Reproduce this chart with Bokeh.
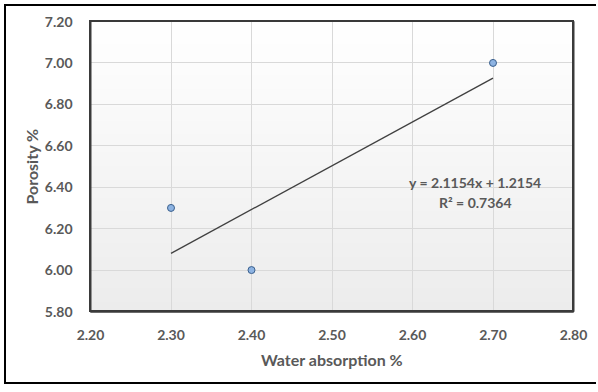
import numpy as np
from bokeh.plotting import figure
from bokeh.models import Label, FixedTicker, Range1d, CustomJSTickFormatter, InlineStyleSheet
from bokeh.embed import file_html
from bokeh.resources import INLINE

# data
water_absorption = [2.3, 2.4, 2.7]
porosity = [6.3, 6.0, 7.0]
slope = 2.1154
intercept = 1.2154
r_squared = 0.7364
trend_x = [2.3, 2.7]
x_ticks = [2.2, 2.3, 2.4, 2.5, 2.6, 2.7, 2.8]
y_ticks = [5.8, 6.0, 6.2, 6.4, 6.6, 6.8, 7.0, 7.2]

FONT = "Lato"
GRAY = "#595959"
FRAME = "#3a3a3a"

W = 592
H = 380
ML, MR, MT, MB = 84, 25, 15, 75
x0, x1 = x_ticks[0], x_ticks[-1]
y0, y1 = y_ticks[0], y_ticks[-1]
p = figure(width=W, height=H, output_backend="svg", toolbar_location=None,
           x_range=Range1d(x0, x1), y_range=Range1d(y0, y1),
           min_border_left=ML, min_border_right=MR,
           min_border_top=MT, min_border_bottom=MB)
p.styles = {"margin-left": "4px", "margin-top": "4px",
            "border-top": "2.5px solid black", "border-left": "2.5px solid black",
            "border-bottom": "2.5px solid black", "border-right": "none"}

# dark frame border drawn by CSS on top of the canvas
fw = W - ML - MR
fh = H - MT - MB
css = (":host { position: relative; }\n"
       ":host::after { content: ''; position: absolute; "
       f"left: {ML - 1}px; top: {MT - 1}px; width: {fw + 2}px; height: {fh + 2}px; "
       f"border: 2px solid {FRAME}; box-sizing: border-box; "
       "pointer-events: none; z-index: 50; }")
p.stylesheets = [InlineStyleSheet(css=css)]

# background gradient in plot area
n = 64
img = np.zeros((n, 1), dtype=np.uint32)
view = img.view(dtype=np.uint8).reshape((n, 1, 4))
for i in range(n):
    t = i / (n - 1)  # 0 bottom -> 1 top
    c = int(round(236 + (255 - 236) * t))
    view[i, 0] = [c, c, c, 255]
p.image_rgba(image=[img], x=x0, y=y0, dw=x1 - x0, dh=y1 - y0, level="image")

p.outline_line_color = FRAME
p.outline_line_width = 2
p.background_fill_color = "white"
p.border_fill_color = "white"

for g in (p.xgrid, p.ygrid):
    g.grid_line_color = "#d9d9d9"
    g.grid_line_width = 1
p.xgrid.ticker = FixedTicker(ticks=x_ticks[1:-1])
p.ygrid.ticker = FixedTicker(ticks=y_ticks[1:-1])

p.xaxis.ticker = FixedTicker(ticks=x_ticks)
p.yaxis.ticker = FixedTicker(ticks=y_ticks)
p.xaxis.formatter = CustomJSTickFormatter(code="return tick.toFixed(2);")
p.yaxis.formatter = CustomJSTickFormatter(code="return tick.toFixed(2);")

for ax in (p.xaxis[0], p.yaxis[0]):
    ax.axis_line_color = FRAME
    ax.axis_line_width = 2
    ax.major_tick_line_color = None
    ax.minor_tick_line_color = None
    ax.major_label_text_font = FONT
    ax.major_label_text_font_style = "bold"
    ax.major_label_text_font_size = "14px"
    ax.major_label_text_color = GRAY
    ax.axis_label_text_font = FONT
    ax.axis_label_text_font_style = "bold"
    ax.axis_label_text_font_size = "16px"
    ax.axis_label_text_color = GRAY

p.xaxis.axis_label = "Water absorption %"
p.yaxis.axis_label = "Porosity %"
p.xaxis.major_label_standoff = 12
p.yaxis.major_label_standoff = 12
p.xaxis.axis_label_standoff = 7
p.yaxis.axis_label_standoff = 1

# trendline
trend_y = [slope * x + intercept for x in trend_x]
p.line(trend_x, trend_y, line_color="#404040", line_width=1.3)

# points
p.scatter(water_absorption, porosity, size=7, fill_color="#8db3e2",
          line_color="#3a5f8c", line_width=1)

# equation
p.add_layout(Label(x=2.678, y=6.425, text=f"y = {slope}x + {intercept}",
                   text_align="center", text_baseline="middle",
                   text_font=FONT, text_font_style="bold", text_font_size="14px",
                   text_color=GRAY))
p.add_layout(Label(x=2.678, y=6.328, text=f"R\u00b2 = {r_squared}",
                   text_align="center", text_baseline="middle",
                   text_font=FONT, text_font_style="bold", text_font_size="14px",
                   text_color=GRAY))

open("out.html", "w").write(file_html(p, INLINE))
